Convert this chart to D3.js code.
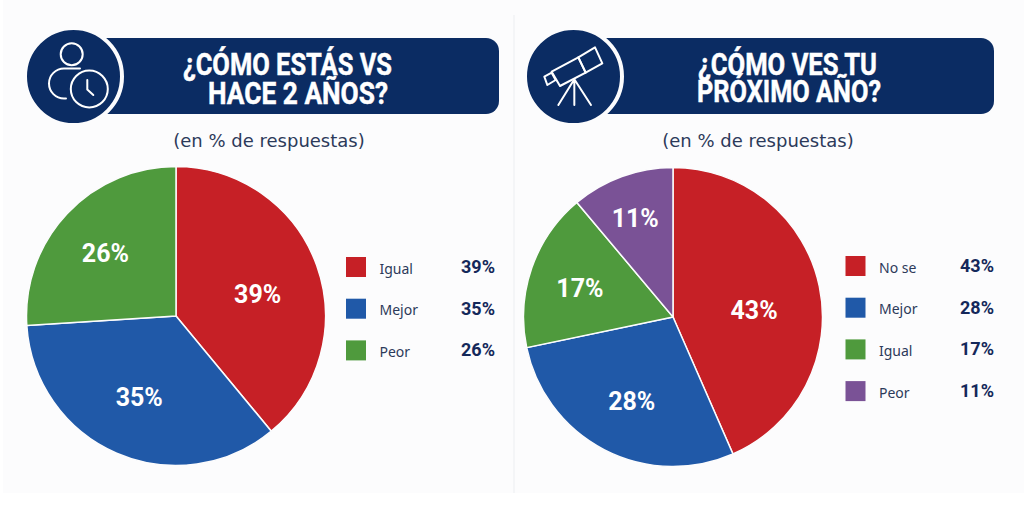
<!DOCTYPE html>
<html>
<head>
<meta charset="utf-8">
<script src="https://d3js.org/d3.v7.min.js"></script>
<style>
html, body { margin: 0; padding: 0; background: #fff; overflow: hidden; }
svg { display: block; }
.title { font-family: Roboto, sans-serif; font-weight: 700; font-size: 32px; fill: #fff; stroke: #fff; stroke-width: 0.5; }
.sub { font-family: "DejaVu Sans", sans-serif; font-size: 18px; fill: #2c3a5a; text-anchor: middle; }
.pct { font-family: Roboto, sans-serif; font-weight: 700; font-size: 25px; fill: #fff; text-anchor: middle; dominant-baseline: central; }
.lab { font-family: "Noto Sans", sans-serif; font-size: 14px; fill: #2c3a5a; dominant-baseline: central; }
.val { font-family: Roboto, sans-serif; font-weight: 700; font-size: 18px; fill: #14285a; text-anchor: end; dominant-baseline: central; }
.ico { fill: none; stroke: #fff; stroke-width: 2; stroke-linecap: round; stroke-linejoin: round; }
</style>
</head>
<body>
<svg width="1024" height="515"></svg>
<script>
var catsLeft = ['Igual', 'Mejor', 'Peor'];
var valsLeft = [39, 35, 26];
var colorsLeft = ['#c62026', '#2059a8', '#4f9a3d'];
var titleLeft = ['¿CÓMO ESTÁS VS', 'HACE 2 AÑOS?'];

var catsRight = ['No se', 'Mejor', 'Igual', 'Peor'];
var valsRight = [43, 28, 17, 11];
var colorsRight = ['#c62026', '#2059a8', '#4f9a3d', '#7a5296'];
var titleRight = ['¿CÓMO VES TU', 'PRÓXIMO AÑO?'];

var subtitle = '(en % de respuestas)';
var navy = '#0b2c63';
var paper = '#fcfcfd';
var svg = d3.select('svg');

// the picture sits on a slightly grey sheet that stops above the bottom edge
svg.append('rect').attr('x', 3).attr('y', 0).attr('width', 1021).attr('height', 493).attr('fill', paper);

// faint divider between the two panels
svg.append('line').attr('x1', 514).attr('x2', 514).attr('y1', 15).attr('y2', 493)
  .attr('stroke', '#eceef1').attr('stroke-width', 1);

function drawPanel(o) {
  var g = svg.append('g');

  // header bar + badge
  g.append('rect').attr('x', o.barX - 20).attr('y', 38).attr('width', o.barW + 20).attr('height', 76)
    .attr('rx', 13).attr('fill', navy);
  g.append('circle').attr('cx', o.badgeX).attr('cy', 76.5).attr('r', 48.5)
    .attr('fill', navy).attr('stroke', paper).attr('stroke-width', 4);
  o.icon(g.append('g').attr('class', 'ico'));

  g.selectAll('.title').data(o.title).enter().append('text')
    .attr('class', 'title')
    .attr('x', function(d, i) { return o.titleBox[i][0]; })
    .attr('y', function(d, i) { return o.titleBox[i][1]; })
    .attr('textLength', function(d, i) { return o.titleBox[i][2]; })
    .attr('lengthAdjust', 'spacingAndGlyphs')
    .text(function(d) { return d; });

  g.append('text').attr('class', 'sub').attr('x', o.subX).attr('y', 147).text(subtitle);

  // pie
  var pie = d3.pie().sort(null)(o.vals);
  var arc = d3.arc().innerRadius(0).outerRadius(o.r);
  var labelArc = d3.arc().innerRadius(90).outerRadius(90);
  var p = g.append('g').attr('transform', 'translate(' + o.cx + ',' + o.cy + ')');
  p.selectAll('path').data(pie).enter().append('path')
    .attr('d', arc)
    .attr('fill', function(d, i) { return o.colors[i]; })
    .attr('stroke', paper).attr('stroke-width', 1.5);
  p.selectAll('text').data(pie).enter().append('text')
    .attr('class', 'pct')
    .attr('transform', function(d, i) {
      var c = labelArc.centroid(d);
      return 'translate(' + (c[0] + o.nudge[i][0]) + ',' + (c[1] + o.nudge[i][1]) + ')';
    })
    .text(function(d) { return d.value + '%'; });

  // legend
  var ys = d3.scalePoint().domain(o.cats).range([o.legY, o.legY + (o.cats.length - 1) * 41.7]);
  var rows = g.selectAll('.row').data(o.cats).enter().append('g')
    .attr('class', 'row')
    .attr('transform', function(d) { return 'translate(0,' + ys(d) + ')'; });
  rows.append('rect').attr('x', o.legX).attr('y', -10).attr('width', 20).attr('height', 20)
    .attr('fill', function(d, i) { return o.colors[i]; });
  rows.append('text').attr('class', 'lab').attr('x', o.legX + 33.5).attr('y', 1)
    .text(function(d) { return d; });
  rows.append('text').attr('class', 'val').attr('x', o.valX).attr('y', -0.5)
    .text(function(d, i) { return o.vals[i] + '%'; });
}

function personIcon(g) {
  g.append('circle').attr('cx', 71.7).attr('cy', 54.3).attr('r', 11);
  g.append('path').attr('d', 'M80,68.5H64A15,15 0 0 0 64,98.5H66');
  g.append('circle').attr('cx', 89.3).attr('cy', 89).attr('r', 18.5);
  g.append('path').attr('d', 'M87.3,80V89.5L93.3,95');
}

function scopeIcon(g) {
  g = g.append('g').attr('transform', 'translate(515,20) scale(0.3333)').style('stroke-width', 6);
  g.append('path').attr('d', 'M190,112L240,82L262,130L212,158Z');
  g.append('path').attr('d', 'M110,155L190,112L212,158L135,198Z');
  g.append('path').attr('d', 'M88,170L110,158L122,180L97,195Z');
  g.append('path').attr('d', 'M178,178L130,255M178,178V255M178,178L228,255');
}

drawPanel({
  cats: catsLeft, vals: valsLeft, colors: colorsLeft, title: titleLeft,
  barX: 108, barW: 391, badgeX: 73.5, subX: 269,
  titleBox: [[183, 75, 209], [208, 104, 180]],
  cx: 176, cy: 316, r: 149.5, legX: 346, legY: 267, valX: 495,
  nudge: [[-3, 9], [-1, -1], [-5, -1]],
  icon: personIcon
});
drawPanel({
  cats: catsRight, vals: valsRight, colors: colorsRight, title: titleRight,
  barX: 607, barW: 387, badgeX: 573.5, subX: 758,
  titleBox: [[698, 75, 179], [697, 102, 184]],
  cx: 673, cy: 317, r: 149.5, legX: 845.5, legY: 266, valX: 994,
  nudge: [[-7, 12], [0, 5], [-8, 1], [-7, -14]],
  icon: scopeIcon
});
</script>
</body>
</html>
